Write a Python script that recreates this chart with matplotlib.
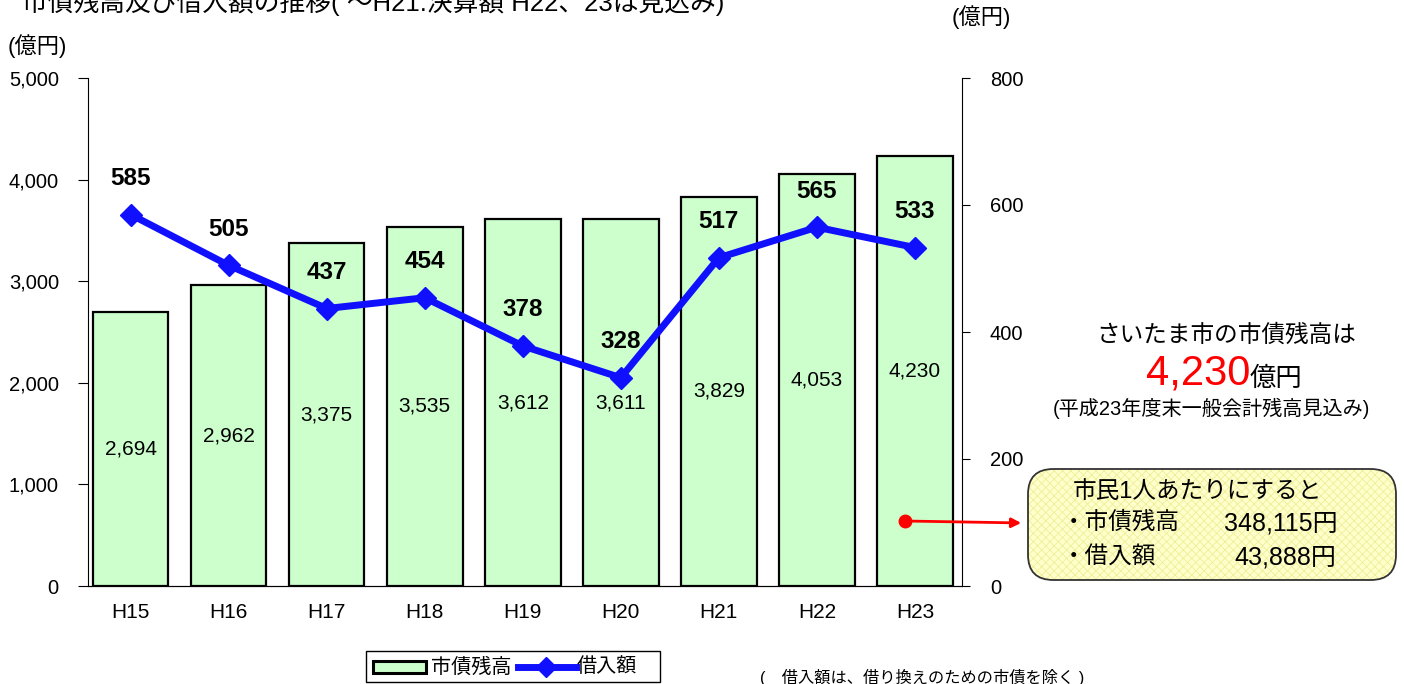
import matplotlib
matplotlib.use("Agg")
import matplotlib.pyplot as plt
from matplotlib.patches import FancyBboxPatch, Rectangle, FancyArrowPatch
from matplotlib.lines import Line2D

plt.rcParams['font.family'] = ['Liberation Sans', 'Noto Sans CJK JP', 'DejaVu Sans']
plt.rcParams['hatch.linewidth'] = 0.6

categories = ["H15", "H16", "H17", "H18", "H19", "H20", "H21", "H22", "H23"]
debt_balance = [2694, 2962, 3375, 3535, 3612, 3611, 3829, 4053, 4230]
borrowing = [585, 505, 437, 454, 378, 328, 517, 565, 533]
left_ticks = [0, 1000, 2000, 3000, 4000, 5000]
right_ticks = [0, 200, 400, 600, 800]

W, H = 1404, 684
fig = plt.figure(figsize=(W / 100, H / 100), dpi=100)
ax = fig.add_axes([88 / W, (H - 586) / H, (962 - 88) / W, (586 - 78) / H])
ax2 = ax.twinx()

x = list(range(len(categories)))
ax.bar(x, debt_balance, width=0.77, color='#ccffcc', edgecolor='black', linewidth=1.6, zorder=2)
for xi, v in zip(x, debt_balance):
    ax.text(xi, v / 2, f"{v:,}", ha='center', va='center', fontsize=15)

ax.set_xlim(-0.435, 8.48)
ax.set_ylim(0, 5000)
ax.set_yticks(left_ticks)
ax.set_yticklabels([f"{t:,}" for t in left_ticks], fontsize=14.5)
ax.set_xticks(x)
ax.set_xticklabels(categories, fontsize=15)
ax.tick_params(axis='x', length=0, pad=12)
ax.tick_params(axis='y', length=7, direction='out', pad=14)
ax.spines['top'].set_visible(False)
ax.spines['right'].set_visible(False)

ax2.set_ylim(0, 800)
ax2.set_yticks(right_ticks)
ax2.set_yticklabels([str(t) for t in right_ticks], fontsize=14.5)
ax2.tick_params(axis='y', length=6, direction='out', pad=14)
ax2.spines['top'].set_visible(False)
ax2.spines['left'].set_visible(False)
ax2.plot(x, borrowing, color='#1010ff', lw=5, marker='D', markersize=11,
         markeredgecolor='#1010ff', zorder=5)
for xi, v in zip(x, borrowing):
    ax2.annotate(str(v), (xi, v), xytext=(0, 26), textcoords='offset points',
                 ha='center', va='center', fontsize=17.5, fontweight='bold')

# Titles and unit labels
fig.text(22 / W, 1 - 2 / H, "市債残高及び借入額の推移( ～H21:決算額 H22、23は見込み)",
         fontsize=18.5, ha='left', va='center')
fig.text(8 / W, 1 - 46 / H, "(億円)", fontsize=16, ha='left', va='center')
fig.text(952 / W, 1 - 17 / H, "(億円)", fontsize=16, ha='left', va='center')

# Right side annotations
fig.text(1226 / W, 1 - 336 / H, "さいたま市の市債残高は", fontsize=17, ha='center', va='center')
fig.text(1250 / W, 1 - 374 / H, "4,230", fontsize=30, color='#ff0000', ha='right', va='center')
fig.text(1250 / W, 1 - 379 / H, "億円", fontsize=19, ha='left', va='center')
fig.text(1211 / W, 1 - 408 / H, "(平成23年度末一般会計残高見込み)", fontsize=14.5, ha='center', va='center')

box_kw = dict(boxstyle="round,pad=0,rounding_size=0.018", transform=fig.transFigure,
              mutation_aspect=W / H)
box_xy = (1028 / W, 1 - 580 / H)
box_w, box_h = (1396 - 1028) / W, (580 - 469) / H
fig.add_artist(FancyBboxPatch(box_xy, box_w, box_h, facecolor='#ffffcc', edgecolor='#eeee99',
                              linewidth=0, hatch='xxxx', **box_kw))
fig.add_artist(FancyBboxPatch(box_xy, box_w, box_h, facecolor='none', edgecolor='#333333',
                              linewidth=1.3, **box_kw))
fig.text(1073 / W, 1 - 492 / H, "市民1人あたりにすると", fontsize=17, ha='left', va='center')
fig.text(1062 / W, 1 - 523 / H, "・市債残高", fontsize=17, ha='left', va='center')
fig.text(1338 / W, 1 - 523 / H, "348,115円", fontsize=18, ha='right', va='center')
fig.text(1062 / W, 1 - 557 / H, "・借入額", fontsize=17, ha='left', va='center')
fig.text(1336 / W, 1 - 557 / H, "43,888円", fontsize=18, ha='right', va='center')

fig.add_artist(Line2D([905 / W], [1 - 521 / H], marker='o', markersize=9, color='#ff0000',
                      transform=fig.transFigure))
fig.add_artist(FancyArrowPatch((905 / W, 1 - 521 / H), (1024 / W, 1 - 523 / H),
                               transform=fig.transFigure, arrowstyle='-|>',
                               mutation_scale=14, color='#ff0000', lw=2))

# Legend
fig.add_artist(Rectangle((366 / W, 1 - 682 / H), (660 - 366) / W, (682 - 651) / H,
                         transform=fig.transFigure, facecolor='white', edgecolor='black', lw=1))
fig.add_artist(Rectangle((373 / W, 1 - 673 / H), (426 - 373) / W, (673 - 661) / H,
                         transform=fig.transFigure, facecolor='#ccffcc', edgecolor='black', lw=2.2))
fig.text(431 / W, 1 - 667 / H, "市債残高", fontsize=14.5, ha='left', va='center')
fig.add_artist(Line2D([518 / W, 576 / W], [1 - 667 / H, 1 - 667 / H], color='#1010ff', lw=5,
                      transform=fig.transFigure))
fig.add_artist(Line2D([546 / W], [1 - 667 / H], marker='D', markersize=10, color='#1010ff',
                      transform=fig.transFigure))
fig.text(577 / W, 1 - 667 / H, "借入額", fontsize=14.5, ha='left', va='center')

fig.text(760 / W, 1 - 677 / H, "(　借入額は、借り換えのための市債を除く )", fontsize=11.7,
         ha='left', va='center')

fig.savefig("out.png", dpi=100)
